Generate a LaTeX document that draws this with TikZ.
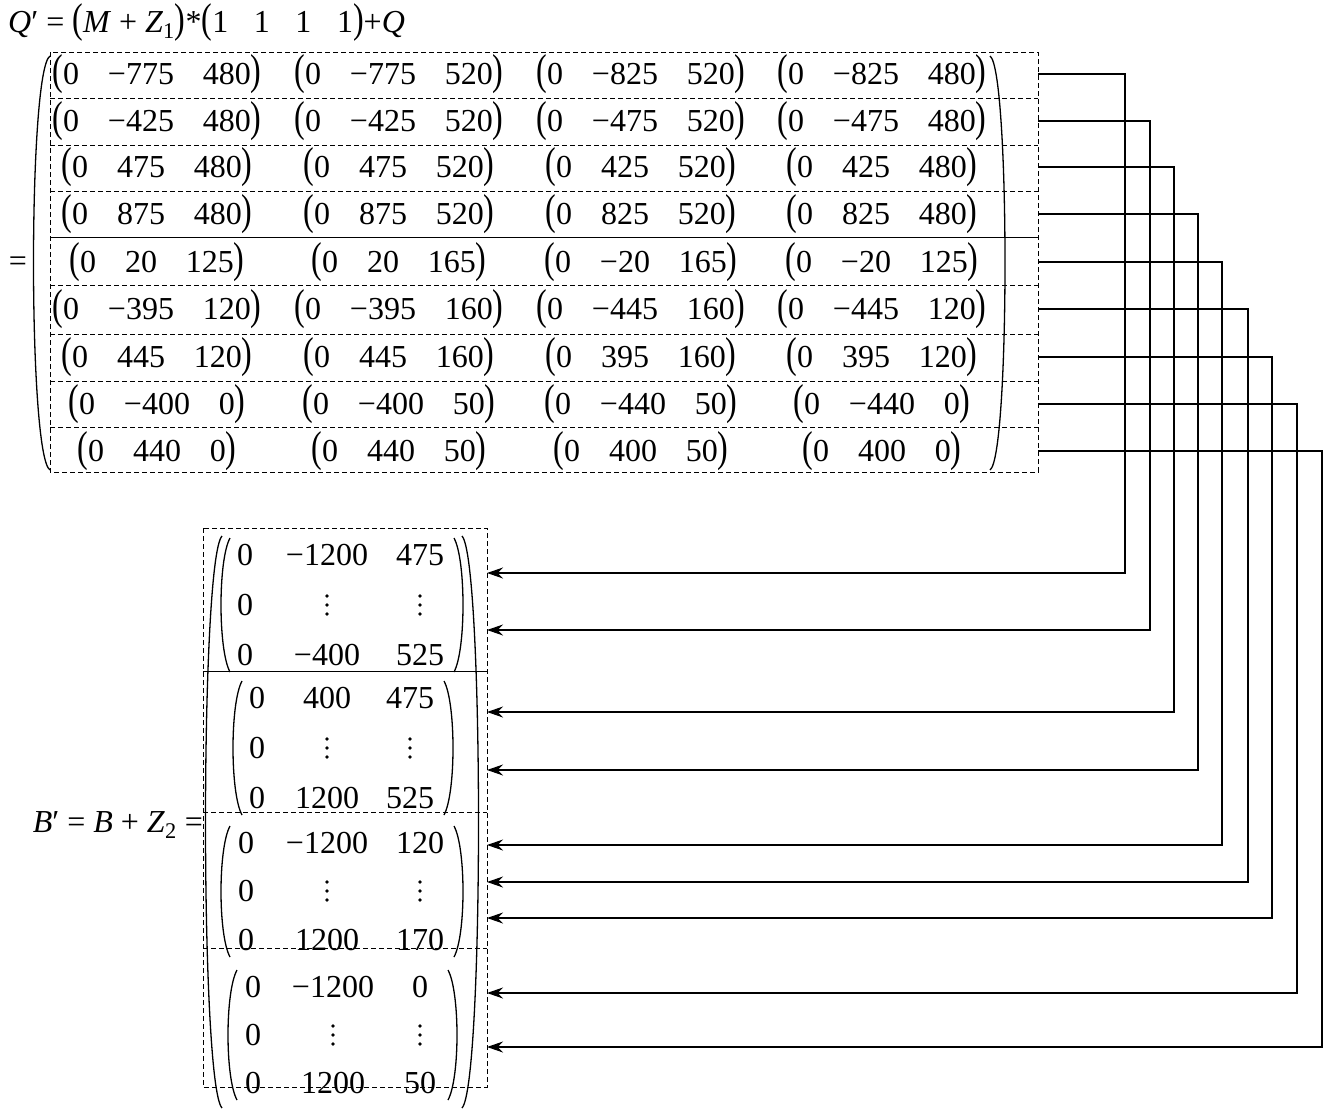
\documentclass[tikz,border=0pt]{standalone}
\usepackage{fontspec}
\setmainfont{Liberation Serif}
\usepackage{graphicx}
\usetikzlibrary{arrows.meta}
\newcommand{\vp}[3]{\scalebox{1}[1.35]{(}#1\hspace{0.9em}#2\hspace{0.9em}#3\scalebox{1}[1.35]{)}}
\newcommand{\mn}{−}
\begin{document}
\begin{tikzpicture}[x=1pt,y=-1pt,
  txt/.style={inner sep=0pt,font=\fontsize{32}{34}\selectfont},
  dbox/.style={draw,dashed,line width=0.8pt,dash pattern=on 5pt off 3pt},
  conn/.style={draw,line width=1.1pt},
  arr/.style={conn,-{Stealth[length=16pt,width=11pt]}},
  par/.style={draw,line width=1.3pt}]
\useasboundingbox (0,0) rectangle (1332,1116);
% top equation
\node[txt,anchor=west] (qeq) at (8,22) {\textit{Q}′ = \scalebox{1}[1.3]{(}\textit{M} + \textit{Z}\textsubscript{1}\scalebox{1}[1.3]{)}*\scalebox{1}[1.3]{(}1\hspace{0.8em}1\hspace{0.8em}1\hspace{0.8em}1\scalebox{1}[1.3]{)}+\textit{Q}};
\node[txt] (eq1) at (18,264) {=};
% top box
\draw[dbox] (50,52) rectangle (1038,472);
\foreach \yy in {98,145,191,285,334,381,427} \draw[dbox] (50,\yy) -- (1038,\yy);
\draw[line width=0.8pt] (50,237) -- (1038,237);
% big parens
\draw[par] (50,56) .. controls (28,70) and (28,456) .. (50,470);
\draw[par] (990,56) .. controls (1010,70) and (1010,456) .. (990,470);
% rows
\foreach \r/\yy/\a/\b/\c/\d/\e/\f/\g/\h/\i/\j/\k/\l in {
 1/74/0/\mn775/480/0/\mn775/520/0/\mn825/520/0/\mn825/480,
 2/121/0/\mn425/480/0/\mn425/520/0/\mn475/520/0/\mn475/480,
 3/167/0/475/480/0/475/520/0/425/520/0/425/480,
 4/214/0/875/480/0/875/520/0/825/520/0/825/480,
 5/262/0/20/125/0/20/165/0/\mn20/165/0/\mn20/125,
 6/309/0/\mn395/120/0/\mn395/160/0/\mn445/160/0/\mn445/120,
 7/357/0/445/120/0/445/160/0/395/160/0/395/120,
 8/404/0/\mn400/0/0/\mn400/50/0/\mn440/50/0/\mn440/0,
 9/451/0/440/0/0/440/50/0/400/50/0/400/0} {
  \node[txt] (r\r a) at (157,\yy) {\vp{\a}{\b}{\c}};
  \node[txt] (r\r b) at (399,\yy) {\vp{\d}{\e}{\f}};
  \node[txt] (r\r c) at (641,\yy) {\vp{\g}{\h}{\i}};
  \node[txt] (r\r d) at (882,\yy) {\vp{\j}{\k}{\l}};
}
% bottom
\node[txt,anchor=east] (beq) at (203,825) {\textit{B}′ = \textit{B} + \textit{Z}\textsubscript{2} =};
\draw[dbox] (203,528) rectangle (487,1087);
\draw[line width=0.8pt] (203,671) -- (487,671);
\draw[dbox] (203,812) -- (487,812);
\draw[dbox] (203,948) -- (487,948);
\draw[par] (222,536) .. controls (200,560) and (200,1084) .. (222,1108);
\draw[par] (462,536) .. controls (484,560) and (484,1084) .. (462,1108);
\foreach \m/\ya/\yb/\yc/\xa/\xb/\xc/\pl/\pr/\A/\B/\C/\D in {
 1/555/605/655/245/327/420/230/454/\mn1200/475/\mn400/525,
 2/698/748/798/257/327/410/242/444/400/475/1200/525,
 3/843/891/940/246/327/420/230/454/\mn1200/120/1200/170,
 4/987/1035/1083/253/333/420/237/448/\mn1200/0/1200/50} {
  \node[txt] (m\m a) at (\xa,\ya) {0};
  \node[txt] (m\m b) at (\xb,\ya) {\A};
  \node[txt] (m\m c) at (\xc,\ya) {\B};
  \node[txt] (m\m d) at (\xa,\yb) {0};
  \coordinate (m\m e) at (\xb,\yb);
  \coordinate (m\m f) at (\xc,\yb);
  \foreach \dd in {-9,0,9} {
    \fill ([yshift=\dd pt]m\m e) circle (1.8pt);
    \fill ([yshift=\dd pt]m\m f) circle (1.8pt);
  }
  \node[txt] (m\m g) at (\xa,\yc) {0};
  \node[txt] (m\m h) at (\xb,\yc) {\C};
  \node[txt] (m\m i) at (\xc,\yc) {\D};
  \draw[par] (\pl,\ya-17) .. controls (\pl-12,\ya+5) and (\pl-12,\yc-5) .. (\pl,\yc+17);
  \draw[par] (\pr,\ya-17) .. controls (\pr+12,\ya+5) and (\pr+12,\yc-5) .. (\pr,\yc+17);
}
% connectors
\foreach \n/\ys/\xv/\ye in {1/74/1125/573,2/121/1150/630,3/167/1174/712,4/214/1198/770,5/262/1222/845,6/309/1248/882,7/357/1272/918,8/404/1297/993,9/451/1322/1047} {
  \coordinate (s\n) at (1038,\ys);
  \coordinate (c\n) at (\xv,\ye);
  \coordinate (e\n) at (487,\ye);
  \draw[arr] (s\n) -| (c\n) -- (e\n);
}
\end{tikzpicture}
\end{document}
